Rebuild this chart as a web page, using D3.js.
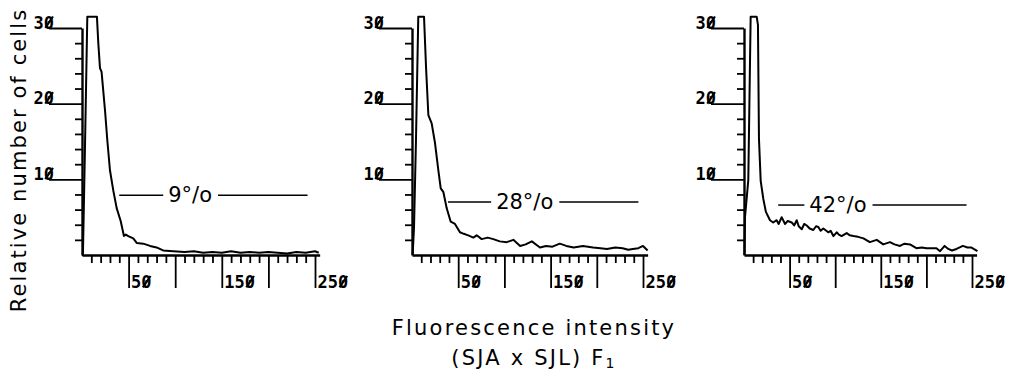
<!DOCTYPE html>
<html>
<head>
<meta charset="utf-8">
<script src="https://cdn.jsdelivr.net/npm/d3@7"></script>
<style>
  body { margin: 0; background: #fff; }
  .lbl { font-family: "DejaVu Sans", sans-serif; font-weight: 400; }
</style>
</head>
<body>
<script>
// three flow cytometry histograms, (SJA x SJL) F1

// intensity / relative cell count
const trace9 = [[0,0],[1,0],[3,13],[5.7,31.5],[16,31.5],[17.5,28],[19.3,24.7],[21,24.2],[24.7,19.1],
  [27.2,15.1],[30,11.2],[33.6,8.5],[37.2,6.2],[41.5,4.5],[45,2.5],[47,2.7],[49.7,2.5],[55,2.2],[58.7,1.6],
  [65.8,1.5],[73,1.2],[80,1.0],[87,0.6],[98,0.5],[110,0.4],[120,0.5],[130,0.3],[140,0.4],[150,0.3],
  [160,0.5],[170,0.3],[180,0.4],[190,0.3],[200,0.4],[210,0.3],[220,0.2],[230,0.4],[240,0.3],[250,0.5],[254,0.3]];

const trace28 = [[0.7,0],[2.2,3.7],[4.3,15.2],[6.8,31.5],[13,31.5],[15.2,24.8],[17.7,18.5],[21.3,17.4],
  [24.9,14.8],[28.5,11.2],[31.1,8.8],[34,8.3],[37.5,6.2],[41.9,4.4],[46.5,4.1],[51.9,3.0],[56,2.8],
  [60.9,2.6],[66.4,2.3],[70,2.6],[75.4,2.1],[82,2.3],[88,2.1],[95,1.8],[102.5,1.7],[109.7,2.0],[117,1.2],
  [123,1.4],[129.7,1.8],[138.5,1.0],[145,1.2],[152,1.1],[160,1.5],[167,1.2],[175,1.0],[185,1.2],[196,1.0],
  [204,0.9],[211,0.8],[220,1.0],[228,0.9],[234,0.7],[239,0.8],[245,0.9],[250,1.2],[255,0.6]];

const trace42 = [[0.5,0],[1.1,5],[4.7,9.9],[7.3,31.5],[13.9,31.5],[15.3,30.4],[16.4,15.4],[18.3,9.8],
  [21.2,7.4],[24,5.7],[28.5,4.6],[32,4.3],[35.8,4.6],[38,4.1],[41.3,5.0],[45,4.1],[48,4.5],[52.3,4.3],
  [55,3.9],[57.8,4.6],[60,3.8],[63.3,3.4],[66,4.1],[68.8,3.9],[72,3.5],[76,3.3],[79,3.8],[81.5,3.7],
  [84,3.2],[87,3.5],[92.4,3.0],[95,3.2],[98,2.5],[101.6,3.0],[104,2.7],[107,2.5],[112.6,2.9],[116,2.6],
  [120,2.5],[125,2.4],[131,2.2],[138,1.7],[145.5,2.0],[152.7,1.4],[160,1.7],[165,1.4],[171,1.2],[176,1.5],
  [182,1.4],[189,0.9],[195,1.0],[200,0.9],[205,0.9],[211,0.9],[215,0.5],[220,1.2],[224,0.8],[228,0.6],
  [233,0.8],[240,1.2],[245,1.0],[249,1.0],[256,0.5]];

const traces = [trace9, trace28, trace42];

// gate markers
const gateLabels = ["9°/o", "28°/o", "42°/o"];
const gateFrom = [40, 39, 37.5];
const gateTo = [242, 245, 244];
const gateLevel = [7.9, 7.0, 6.6];
const gateTextAt = [116, 122, 103];

// axis ticks
const xMajor = [50, 100, 150, 200, 250];
const xLabelled = [50, 150, 250];
const xMinor = d3.range(10, 250, 10).filter(d => d % 50 !== 0);
const yMajor = [10, 20, 30];
const yMinor = d3.range(2, 30, 2).filter(d => d % 10 !== 0);

const W = 1021, H = 373;
const panelLeft = [82, 412, 744];
const panelRight = [315, 643, 972];
const yBase = 255, yTop = 28;
const numSize = 17;

const svg = d3.select("body").append("svg")
  .attr("width", W).attr("height", H);

// plotter style slashed zeros: a stroke drawn across each "0" (monospace, so equal cells)
function slashZeros(sel) {
  sel.each(function() {
    var node = this, s = node.textContent;
    if (!s) return;
    var bb = node.getBBox();
    var cw = bb.width / s.length;
    var base = bb.y + bb.height * 0.77;
    var top = base - numSize * 0.73;
    for (var k = 0; k < s.length; k++) {
      if (s[k] !== "0") continue;
      var cx = bb.x + k * cw;
      d3.select(node.parentNode).append("line")
        .attr("x1", cx + cw * 0.15).attr("y1", base)
        .attr("x2", cx + cw * 0.9).attr("y2", top + 1)
        .attr("stroke", "#000").attr("stroke-width", 2.2);
    }
  });
}

traces.forEach(function(trace, i) {
  var x = d3.scaleLinear().domain([0, 250]).range([panelLeft[i], panelRight[i]]);
  var xLine = x.copy().domain([0, 255]).range([x(0), x(255)]);
  var y = d3.scaleLinear().domain([0, 30]).range([yBase, yTop]);

  var g = svg.append("g");

  // x axis, minor then major
  g.append("g").attr("transform", "translate(0," + yBase + ")")
    .call(d3.axisBottom(xLine).tickValues(xMinor).tickSize(8).tickSizeOuter(0).tickFormat(""));
  var xa = g.append("g").attr("transform", "translate(0," + yBase + ")")
    .call(d3.axisBottom(x).tickValues(xMajor).tickSize(33).tickSizeOuter(0)
      .tickFormat(d => xLabelled.includes(d) ? d : ""))
    .call(a => a.select(".domain").remove());
  xa.selectAll("text")
      .attr("x", 2).attr("y", 33).attr("dy", 0)
      .style("text-anchor", "start");

  // y axis
  g.append("g").attr("transform", "translate(" + x(0) + ",0)")
    .call(d3.axisLeft(y).tickValues(yMinor).tickSize(7).tickSizeOuter(0).tickFormat(""));
  var ya = g.append("g").attr("transform", "translate(" + x(0) + ",0)")
    .call(d3.axisLeft(y).tickValues(yMajor).tickSize(33).tickPadding(-5))
    .call(a => a.select(".domain").remove());
  ya.selectAll("text").attr("dy", 0);

  g.selectAll("g").attr("font-family", "DejaVu Sans Mono").attr("font-size", numSize);
  g.selectAll(".domain").attr("stroke-width", 2.4);
  g.selectAll(".tick line").attr("stroke-width", 1.8);
  g.selectAll(".tick text").attr("fill", "#000").attr("font-weight", 700)
    .call(slashZeros);

  // histogram trace
  g.append("path")
    .datum(trace)
    .attr("fill", "none")
    .attr("stroke", "#000")
    .attr("stroke-width", 2)
    .attr("stroke-linejoin", "round")
    .attr("d", d3.line().x(d => x(d[0])).y(d => y(d[1])));

  // gate line with percentage
  var gy = y(gateLevel[i]);
  var t = g.append("text")
    .attr("class", "lbl")
    .attr("x", x(gateTextAt[i])).attr("y", gy + 7)
    .attr("text-anchor", "middle")
    .attr("font-size", 21)
    .text(gateLabels[i]);
  var bb = t.node().getBBox();
  g.append("line")
    .attr("x1", x(gateFrom[i])).attr("x2", bb.x - 5)
    .attr("y1", gy).attr("y2", gy)
    .attr("stroke", "#000").attr("stroke-width", 1.5);
  g.append("line")
    .attr("x1", bb.x + bb.width + 6).attr("x2", x(gateTo[i]))
    .attr("y1", gy).attr("y2", gy)
    .attr("stroke", "#000").attr("stroke-width", 1.5);
});

// axis titles
svg.append("text")
  .attr("class", "lbl")
  .attr("transform", "translate(26,160) rotate(-90)")
  .attr("text-anchor", "middle")
  .attr("font-size", 21)
  .attr("letter-spacing", 2.1)
  .text("Relative number of cells");

svg.append("text")
  .attr("class", "lbl")
  .attr("x", 534).attr("y", 335)
  .attr("text-anchor", "middle")
  .attr("font-size", 21)
  .attr("letter-spacing", 2.2)
  .text("Fluorescence intensity");

var sub = svg.append("text")
  .attr("class", "lbl")
  .attr("x", 534).attr("y", 365)
  .attr("text-anchor", "middle")
  .attr("font-size", 21)
  .attr("letter-spacing", 2.2);
sub.append("tspan").text("(SJA x SJL) F");
sub.append("tspan").attr("font-size", 14).attr("dy", 3).text("1");
</script>
</body>
</html>
